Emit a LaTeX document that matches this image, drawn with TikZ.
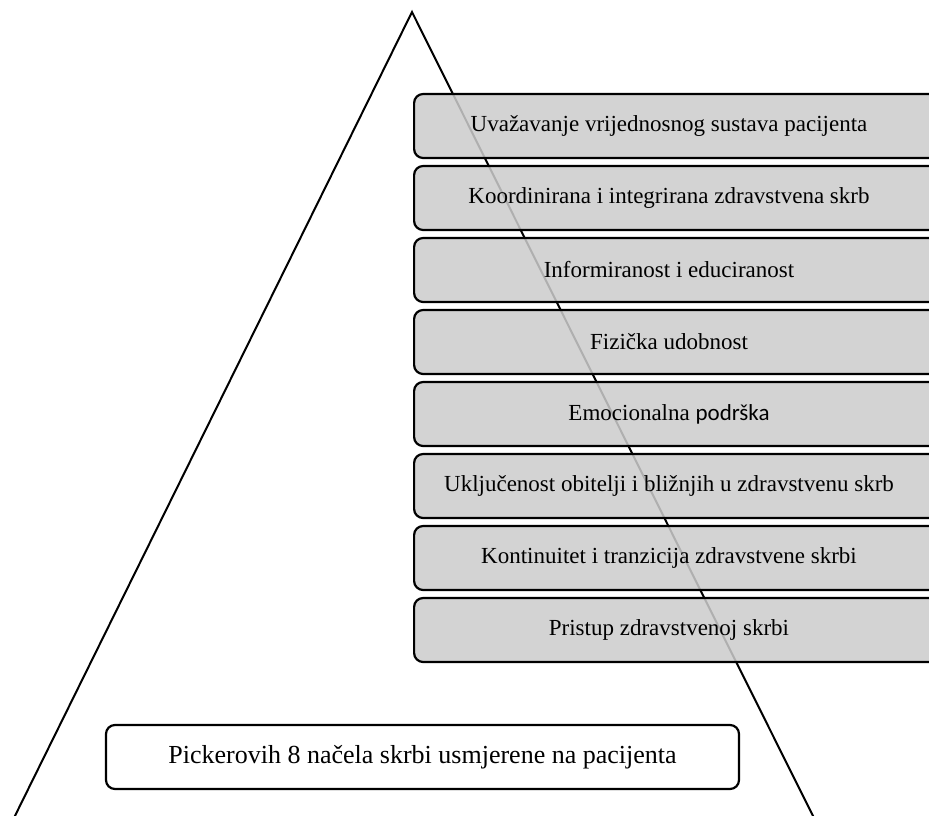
\documentclass[tikz,border=0pt]{standalone}
\usepackage{fontspec}
\setmainfont{Liberation Serif}
\newfontfamily\calibri{Carlito}
\definecolor{boxgray}{gray}{0.8}
\tikzset{
  tri/.style={line width=2pt, line join=miter},
  greybox/.style={draw, line width=2.2pt, rounded corners=9pt, fill=boxgray, fill opacity=0.86,
    minimum width=560pt, minimum height=64pt, inner sep=0pt, anchor=west},
  whitebox/.style={draw, line width=2.2pt, rounded corners=9pt, fill=white,
    minimum width=633pt, minimum height=64pt, inner sep=0pt},
  lbl/.style={font=\fontsize{23}{27}\selectfont, inner sep=0pt, text opacity=1},
  biglbl/.style={font=\fontsize{26}{30}\selectfont, inner sep=0pt}
}
\begin{document}
\begin{tikzpicture}[x=1pt,y=-1pt]
\useasboundingbox (0,0) rectangle (929,816);
\clip (0,0) rectangle (929,816);
\coordinate (apex) at (412,12);
\coordinate (bl) at (8,830);
\coordinate (br) at (820,830);
\draw[tri] (bl) -- (apex) -- (br);
\foreach \i/\t in {1/{Uvažavanje vrijednosnog sustava pacijenta},
                   2/{Koordinirana i integrirana zdravstvena skrb},
                   3/{Informiranost i educiranost},
                   4/{Fizička udobnost},
                   5/{Emocionalna {\calibri podrška}},
                   6/{Uključenost obitelji i bližnjih u zdravstvenu skrb},
                   7/{Kontinuitet i tranzicija zdravstvene skrbi},
                   8/{Pristup zdravstvenoj skrbi}}{
  \node[greybox] (b\i) at (413,{126+72*(\i-1)}) {};
  \node[lbl] (t\i) at (669,{126+72*(\i-1)}) {\t};
}
\node[whitebox] (base) at (422.5,757) {};
\node[biglbl] (baset) at (base.center) {Pickerovih 8 načela skrbi usmjerene na pacijenta};
\end{tikzpicture}
\end{document}
